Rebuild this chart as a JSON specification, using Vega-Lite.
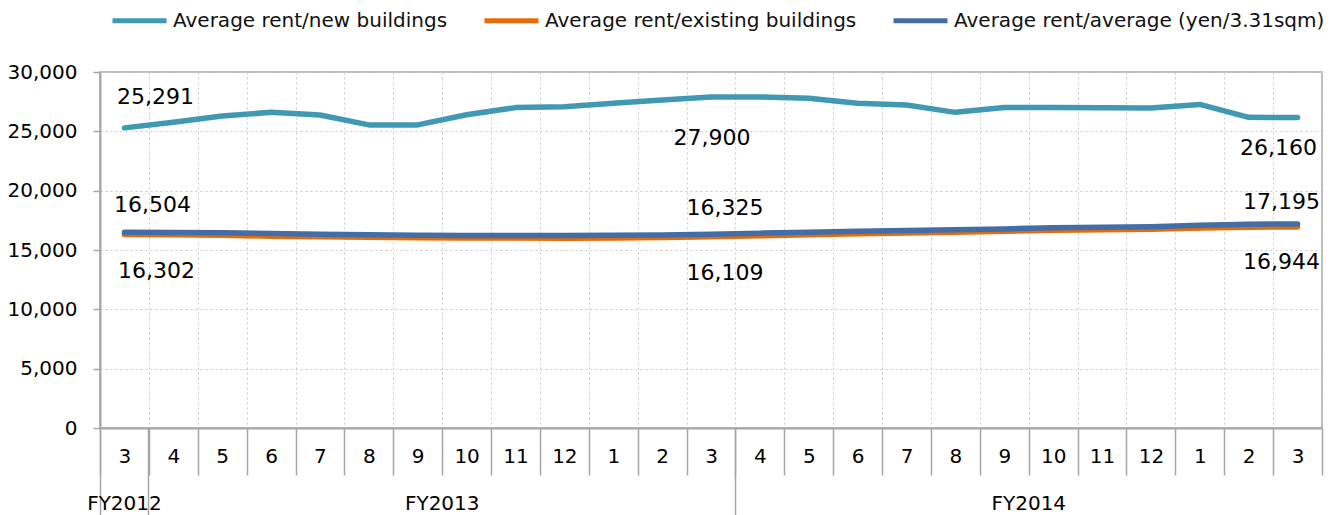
{
  "$schema": "https://vega.github.io/schema/vega-lite/v6.json",
  "width": 1222,
  "height": 356,
  "autosize": {"type": "none"},
  "padding": {"left": 100, "top": 72, "right": 10, "bottom": 87},
  "config": {
    "font": "DejaVu Sans",
    "view": {"stroke": "#A6A6A6", "strokeWidth": 1.5},
    "text": {"font": "DejaVu Sans", "fontSize": 22, "color": "#000000"}
  },
  "data": {
    "values": [
      {"period": "2013/03", "series": "Average rent/new buildings", "rent": 25291},
      {"period": "2013/04", "series": "Average rent/new buildings", "rent": 25760},
      {"period": "2013/05", "series": "Average rent/new buildings", "rent": 26290},
      {"period": "2013/06", "series": "Average rent/new buildings", "rent": 26600},
      {"period": "2013/07", "series": "Average rent/new buildings", "rent": 26380},
      {"period": "2013/08", "series": "Average rent/new buildings", "rent": 25540},
      {"period": "2013/09", "series": "Average rent/new buildings", "rent": 25540},
      {"period": "2013/10", "series": "Average rent/new buildings", "rent": 26400},
      {"period": "2013/11", "series": "Average rent/new buildings", "rent": 27000},
      {"period": "2013/12", "series": "Average rent/new buildings", "rent": 27080},
      {"period": "2014/01", "series": "Average rent/new buildings", "rent": 27360},
      {"period": "2014/02", "series": "Average rent/new buildings", "rent": 27640},
      {"period": "2014/03", "series": "Average rent/new buildings", "rent": 27900},
      {"period": "2014/04", "series": "Average rent/new buildings", "rent": 27900},
      {"period": "2014/05", "series": "Average rent/new buildings", "rent": 27780},
      {"period": "2014/06", "series": "Average rent/new buildings", "rent": 27360},
      {"period": "2014/07", "series": "Average rent/new buildings", "rent": 27220},
      {"period": "2014/08", "series": "Average rent/new buildings", "rent": 26600},
      {"period": "2014/09", "series": "Average rent/new buildings", "rent": 27000},
      {"period": "2014/10", "series": "Average rent/new buildings", "rent": 27000},
      {"period": "2014/11", "series": "Average rent/new buildings", "rent": 26980},
      {"period": "2014/12", "series": "Average rent/new buildings", "rent": 26960},
      {"period": "2015/01", "series": "Average rent/new buildings", "rent": 27270},
      {"period": "2015/02", "series": "Average rent/new buildings", "rent": 26180},
      {"period": "2015/03", "series": "Average rent/new buildings", "rent": 26160},
      {"period": "2013/03", "series": "Average rent/existing buildings", "rent": 16302},
      {"period": "2013/04", "series": "Average rent/existing buildings", "rent": 16280},
      {"period": "2013/05", "series": "Average rent/existing buildings", "rent": 16250},
      {"period": "2013/06", "series": "Average rent/existing buildings", "rent": 16160},
      {"period": "2013/07", "series": "Average rent/existing buildings", "rent": 16110},
      {"period": "2013/08", "series": "Average rent/existing buildings", "rent": 16070},
      {"period": "2013/09", "series": "Average rent/existing buildings", "rent": 16040},
      {"period": "2013/10", "series": "Average rent/existing buildings", "rent": 16020},
      {"period": "2013/11", "series": "Average rent/existing buildings", "rent": 16010},
      {"period": "2013/12", "series": "Average rent/existing buildings", "rent": 16000},
      {"period": "2014/01", "series": "Average rent/existing buildings", "rent": 16020},
      {"period": "2014/02", "series": "Average rent/existing buildings", "rent": 16050},
      {"period": "2014/03", "series": "Average rent/existing buildings", "rent": 16109},
      {"period": "2014/04", "series": "Average rent/existing buildings", "rent": 16200},
      {"period": "2014/05", "series": "Average rent/existing buildings", "rent": 16290},
      {"period": "2014/06", "series": "Average rent/existing buildings", "rent": 16370},
      {"period": "2014/07", "series": "Average rent/existing buildings", "rent": 16430},
      {"period": "2014/08", "series": "Average rent/existing buildings", "rent": 16490},
      {"period": "2014/09", "series": "Average rent/existing buildings", "rent": 16570},
      {"period": "2014/10", "series": "Average rent/existing buildings", "rent": 16670},
      {"period": "2014/11", "series": "Average rent/existing buildings", "rent": 16710},
      {"period": "2014/12", "series": "Average rent/existing buildings", "rent": 16750},
      {"period": "2015/01", "series": "Average rent/existing buildings", "rent": 16850},
      {"period": "2015/02", "series": "Average rent/existing buildings", "rent": 16920},
      {"period": "2015/03", "series": "Average rent/existing buildings", "rent": 16944},
      {"period": "2013/03", "series": "Average rent/average (yen/3.31sqm)", "rent": 16504},
      {"period": "2013/04", "series": "Average rent/average (yen/3.31sqm)", "rent": 16480},
      {"period": "2013/05", "series": "Average rent/average (yen/3.31sqm)", "rent": 16460},
      {"period": "2013/06", "series": "Average rent/average (yen/3.31sqm)", "rent": 16380},
      {"period": "2013/07", "series": "Average rent/average (yen/3.31sqm)", "rent": 16330},
      {"period": "2013/08", "series": "Average rent/average (yen/3.31sqm)", "rent": 16280},
      {"period": "2013/09", "series": "Average rent/average (yen/3.31sqm)", "rent": 16240},
      {"period": "2013/10", "series": "Average rent/average (yen/3.31sqm)", "rent": 16220},
      {"period": "2013/11", "series": "Average rent/average (yen/3.31sqm)", "rent": 16220},
      {"period": "2013/12", "series": "Average rent/average (yen/3.31sqm)", "rent": 16220},
      {"period": "2014/01", "series": "Average rent/average (yen/3.31sqm)", "rent": 16240},
      {"period": "2014/02", "series": "Average rent/average (yen/3.31sqm)", "rent": 16270},
      {"period": "2014/03", "series": "Average rent/average (yen/3.31sqm)", "rent": 16325},
      {"period": "2014/04", "series": "Average rent/average (yen/3.31sqm)", "rent": 16420},
      {"period": "2014/05", "series": "Average rent/average (yen/3.31sqm)", "rent": 16500},
      {"period": "2014/06", "series": "Average rent/average (yen/3.31sqm)", "rent": 16580},
      {"period": "2014/07", "series": "Average rent/average (yen/3.31sqm)", "rent": 16640},
      {"period": "2014/08", "series": "Average rent/average (yen/3.31sqm)", "rent": 16700},
      {"period": "2014/09", "series": "Average rent/average (yen/3.31sqm)", "rent": 16780},
      {"period": "2014/10", "series": "Average rent/average (yen/3.31sqm)", "rent": 16880},
      {"period": "2014/11", "series": "Average rent/average (yen/3.31sqm)", "rent": 16920},
      {"period": "2014/12", "series": "Average rent/average (yen/3.31sqm)", "rent": 16960},
      {"period": "2015/01", "series": "Average rent/average (yen/3.31sqm)", "rent": 17080},
      {"period": "2015/02", "series": "Average rent/average (yen/3.31sqm)", "rent": 17170},
      {"period": "2015/03", "series": "Average rent/average (yen/3.31sqm)", "rent": 17195}
    ]
  },
  "resolve": {"axis": {"x": "independent"}},
  "layer": [
    {
      "mark": {"type": "line", "strokeWidth": 5.5, "strokeCap": "round", "strokeJoin": "round"},
      "encoding": {
        "x": {
          "field": "period", "type": "ordinal",
          "axis": {
            "orient": "bottom",
            "title": null, "tickBand": "extent",
            "labelExpr": "isValid(datum.value) ? '' + toNumber(split(datum.value, '/')[1]) : ''",
            "labelAngle": 0, "labelFontSize": 20, "labelColor": "#000000",
            "labelPadding": -19, "labelBaseline": "middle",
            "tickSize": 47, "tickColor": "#A6A6A6", "tickWidth": 1.5,
            "domainColor": "#A6A6A6", "domainWidth": 2,
            "grid": true, "gridColor": "#C8C8C8", "gridDash": [2, 3], "gridWidth": 1
          }
        },
        "y": {
          "field": "rent", "type": "quantitative",
          "scale": {"domain": [0, 30000], "nice": false},
          "axis": {
            "title": null, "values": [0, 5000, 10000, 15000, 20000, 25000, 30000],
            "labelExpr": "format(datum.value, ',')",
            "labelFontSize": 20, "labelColor": "#000000",
            "tickSize": 7, "labelPadding": 16, "tickColor": "#A6A6A6", "tickWidth": 1.5,
            "domainColor": "#A6A6A6", "domainWidth": 2,
            "grid": true, "gridColor": "#C8C8C8", "gridDash": [2, 3], "gridWidth": 1
          }
        },
        "color": {
          "field": "series", "type": "nominal",
          "scale": {
            "domain": ["Average rent/new buildings", "Average rent/existing buildings", "Average rent/average (yen/3.31sqm)"],
            "range": ["#4198B2", "#E46C0A", "#446DA6"]
          },
          "legend": {
            "orient": "none", "legendX": 10, "legendY": -81, "direction": "horizontal",
            "title": null, "symbolType": "stroke", "symbolSize": 2916, "symbolStrokeWidth": 5,
            "labelFontSize": 20, "labelColor": "#111111", "labelOffset": 4, "columnPadding": 26,
            "labelLimit": 600
          }
        }
      }
    },
    {
      "transform": [{"filter": "datum.period == '2013/03' && datum.series == 'Average rent/new buildings'"}],
      "mark": {"type": "text", "dx": 31, "dy": -31},
      "encoding": {
        "x": {
          "field": "period", "type": "ordinal",
          "axis": {
            "orient": "bottom",
            "title": null, "values": ["2013/03", "2013/04", "2014/04"], "bandPosition": 0,
            "domain": false, "grid": false, "tickSize": 87, "tickColor": "#A6A6A6", "tickWidth": 1.5,
            "labelExpr": "datum.value == '2013/03' ? 'FY2012' : (datum.value == '2013/04' ? 'FY2013' : 'FY2014')",
            "labelOffset": {"condition": {"test": "datum.value == '2013/03'", "value": 0}, "value": 268.9},
            "labelPadding": -12, "labelBaseline": "middle", "labelAngle": 0,
            "labelFontSize": 20, "labelColor": "#000000", "labelOverlap": false, "labelBound": false, "labelFlush": false
          }
        },
        "y": {"field": "rent", "type": "quantitative"},
        "text": {"field": "rent", "type": "quantitative", "format": ","}
      }
    },
    {
      "transform": [{"filter": "datum.period == '2013/03' && datum.series == 'Average rent/average (yen/3.31sqm)'"}],
      "mark": {"type": "text", "dx": 28, "dy": -27},
      "encoding": {
        "x": {"field": "period", "type": "ordinal", "axis": null},
        "y": {"field": "rent", "type": "quantitative"},
        "text": {"field": "rent", "type": "quantitative", "format": ","}
      }
    },
    {
      "transform": [{"filter": "datum.period == '2013/03' && datum.series == 'Average rent/existing buildings'"}],
      "mark": {"type": "text", "dx": 32, "dy": 36},
      "encoding": {
        "x": {"field": "period", "type": "ordinal", "axis": null},
        "y": {"field": "rent", "type": "quantitative"},
        "text": {"field": "rent", "type": "quantitative", "format": ","}
      }
    },
    {
      "transform": [{"filter": "datum.period == '2014/03' && datum.series == 'Average rent/new buildings'"}],
      "mark": {"type": "text", "dx": 1, "dy": 41},
      "encoding": {
        "x": {"field": "period", "type": "ordinal", "axis": null},
        "y": {"field": "rent", "type": "quantitative"},
        "text": {"field": "rent", "type": "quantitative", "format": ","}
      }
    },
    {
      "transform": [{"filter": "datum.period == '2014/03' && datum.series == 'Average rent/average (yen/3.31sqm)'"}],
      "mark": {"type": "text", "dx": 14, "dy": -26},
      "encoding": {
        "x": {"field": "period", "type": "ordinal", "axis": null},
        "y": {"field": "rent", "type": "quantitative"},
        "text": {"field": "rent", "type": "quantitative", "format": ","}
      }
    },
    {
      "transform": [{"filter": "datum.period == '2014/03' && datum.series == 'Average rent/existing buildings'"}],
      "mark": {"type": "text", "dx": 14, "dy": 36},
      "encoding": {
        "x": {"field": "period", "type": "ordinal", "axis": null},
        "y": {"field": "rent", "type": "quantitative"},
        "text": {"field": "rent", "type": "quantitative", "format": ","}
      }
    },
    {
      "transform": [{"filter": "datum.period == '2015/03' && datum.series == 'Average rent/new buildings'"}],
      "mark": {"type": "text", "dx": -19, "dy": 30},
      "encoding": {
        "x": {"field": "period", "type": "ordinal", "axis": null},
        "y": {"field": "rent", "type": "quantitative"},
        "text": {"field": "rent", "type": "quantitative", "format": ","}
      }
    },
    {
      "transform": [{"filter": "datum.period == '2015/03' && datum.series == 'Average rent/average (yen/3.31sqm)'"}],
      "mark": {"type": "text", "dx": -16, "dy": -22},
      "encoding": {
        "x": {"field": "period", "type": "ordinal", "axis": null},
        "y": {"field": "rent", "type": "quantitative"},
        "text": {"field": "rent", "type": "quantitative", "format": ","}
      }
    },
    {
      "transform": [{"filter": "datum.period == '2015/03' && datum.series == 'Average rent/existing buildings'"}],
      "mark": {"type": "text", "dx": -16, "dy": 35},
      "encoding": {
        "x": {"field": "period", "type": "ordinal", "axis": null},
        "y": {"field": "rent", "type": "quantitative"},
        "text": {"field": "rent", "type": "quantitative", "format": ","}
      }
    }
  ]
}
